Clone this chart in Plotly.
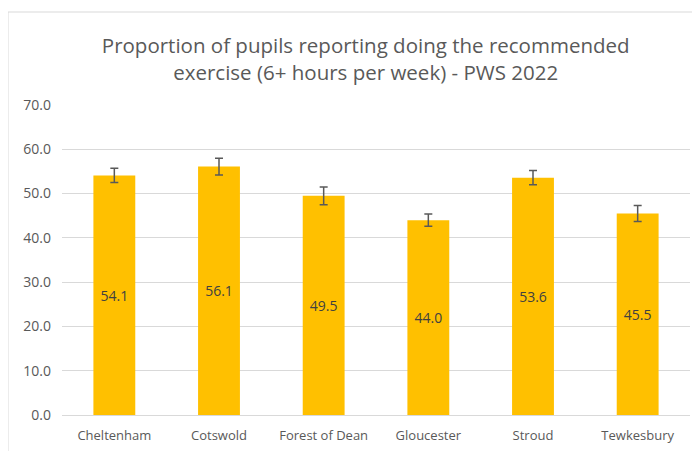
import plotly.graph_objects as go

districts = ["Cheltenham", "Cotswold", "Forest of Dean", "Gloucester", "Stroud", "Tewkesbury"]
exercise_pct = [54.1, 56.1, 49.5, 44.0, 53.6, 45.5]
ci_margin = [1.6, 1.9, 2.0, 1.4, 1.6, 1.8]

fig = go.Figure()
fig.add_trace(go.Bar(
    x=districts,
    y=exercise_pct,
    width=0.4,
    marker=dict(color="#FFC000", line=dict(width=0)),
    text=[f"{v:.1f}" for v in exercise_pct],
    textposition="inside",
    insidetextanchor="middle",
    textfont=dict(family="Open Sans", size=14, color="#404040"),
    error_y=dict(type="data", array=ci_margin, color="#595959", thickness=1.5, width=4),
))

# page body has an 8px margin, so margins are shifted to compensate
fig.update_layout(
    width=700, height=451,
    margin=dict(l=54, r=18, t=97, b=44),
    paper_bgcolor="white",
    plot_bgcolor="white",
    showlegend=False,
    font=dict(family="Open Sans", color="#595959"),
    title=dict(
        text="Proportion of pupils reporting doing the recommended<br>exercise (6+ hours per week) - PWS 2022",
        x=0.511, xanchor="center", y=0.9, yanchor="middle",
        font=dict(family="Open Sans", size=20.5, color="#595959"),
    ),
    xaxis=dict(showgrid=False, showline=True, linecolor="#D9D9D9",
               tickfont=dict(size=13, color="#595959"), ticks="",
               ticklabelstandoff=8),
    yaxis=dict(range=[0, 70], dtick=10, tickformat=".1f", gridcolor="#D9D9D9",
               zeroline=False, tickfont=dict(size=14, color="#595959"), ticks="",
               ticklabelstandoff=10),
    shapes=[dict(type="rect", xref="paper", yref="paper",
                 x0=-0.086, x1=1.2, y0=-0.3, y1=1.3,
                 line=dict(color="#D9D9D9", width=1), layer="below")],
)

fig.write_html("out.html")
